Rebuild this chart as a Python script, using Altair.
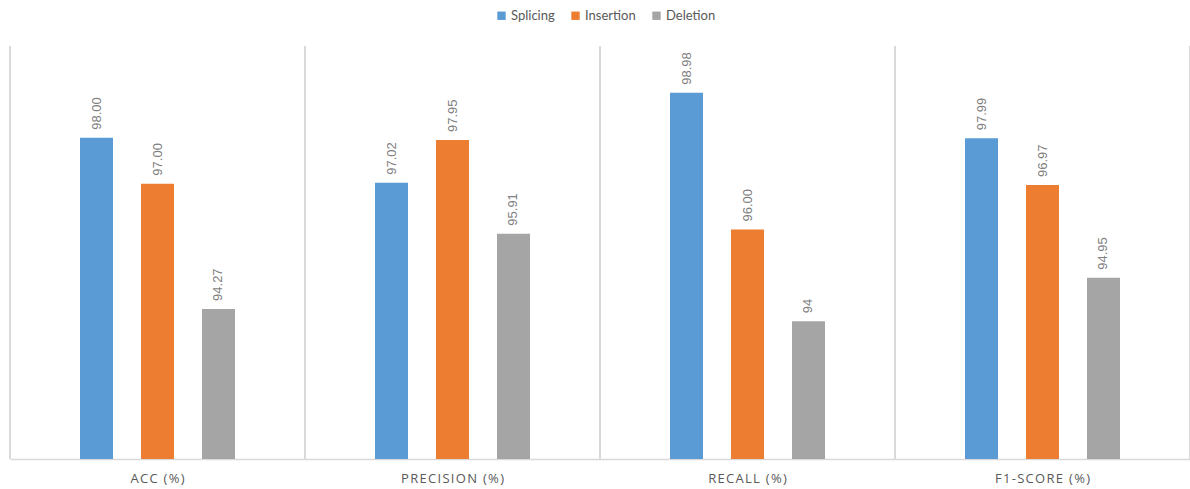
import altair as alt
import pandas as pd

# Metric groups and the three manipulation types
metrics = ["ACC (%)", "PRECISION (%)", "RECALL (%)", "F1-SCORE (%)"]
series = ["Splicing", "Insertion", "Deletion"]
colors = ["#5B9BD5", "#ED7D31", "#A5A5A5"]

splicing = [98.00, 97.02, 98.98, 97.99]
insertion = [97.00, 97.95, 96.00, 96.97]
deletion = [94.27, 95.91, 94.00, 94.95]

splicing_labels = ["98.00", "97.02", "98.98", "97.99"]
insertion_labels = ["97.00", "97.95", "96.00", "96.97"]
deletion_labels = ["94.27", "95.91", "94", "94.95"]

rows = []
for name, vals, labs in [
    ("Splicing", splicing, splicing_labels),
    ("Insertion", insertion, insertion_labels),
    ("Deletion", deletion, deletion_labels),
]:
    for m, v, lab in zip(metrics, vals, labs):
        rows.append({"metric": m, "series": name, "value": v, "label": lab})
df = pd.DataFrame(rows)
sep_df = pd.DataFrame({"metric": metrics})

FONT = "Lato"
W, H = 1180, 413

x_axis = alt.Axis(
    labelAngle=0,
    labelAlign="center",
    labelBaseline="middle",
    ticks=False,
    labelPadding=19,
    labelFont="Open Sans",
    labelFontSize=13,
    labelColor="#595959",
    # spaced-out category captions
    labelExpr="join(split(datum.label, ''), '\u200a')",
    domainColor="#D9D9D9",
    domainWidth=1.5,
    grid=False,
)
x_scale = alt.Scale(paddingInner=0, paddingOuter=0)


def x_enc(**kw):
    return alt.X("metric:N", sort=metrics, title=None, scale=x_scale, axis=x_axis, **kw)


y_scale = alt.Scale(domain=[91, 100], clamp=True, nice=False, zero=False)
off_enc = alt.XOffset(
    "series:N", sort=series,
    scale=alt.Scale(range=[70, 225], paddingInner=0.459, paddingOuter=0),
)

bars = alt.Chart(df).mark_bar().encode(
    x=x_enc(),
    xOffset=off_enc,
    y=alt.Y("value:Q", scale=y_scale, axis=None),
    color=alt.Color(
        "series:N",
        sort=series,
        scale=alt.Scale(domain=series, range=colors),
        legend=alt.Legend(
            title=None,
            orient="none",
            direction="horizontal",
            legendX=485,
            legendY=-37,
            symbolType="square",
            symbolSize=70,
            symbolStrokeWidth=0,
            labelFont=FONT,
            labelFontSize=13,
            labelColor="#595959",
            columnPadding=14,
            labelOffset=3,
        ),
    ),
)

labels = alt.Chart(df).mark_text(
    angle=270, align="left", baseline="middle", dx=8,
    font="Liberation Sans", fontSize=13, color="#808080",
).encode(
    x=x_enc(),
    xOffset=off_enc,
    y=alt.Y("value:Q", scale=y_scale, axis=None),
    text="label:N",
)

# Light vertical separators between metric groups
seps = alt.Chart(sep_df).mark_rule(color="#D9D9D9", strokeWidth=2).encode(
    x=x_enc(bandPosition=0),
    y=alt.value(0),
    y2=alt.value(H),
)
right_edge = alt.Chart(sep_df.head(1)).mark_rule(color="#D9D9D9", strokeWidth=2).encode(
    x=alt.value(W),
    y=alt.value(0),
    y2=alt.value(H),
)

chart = alt.layer(bars, seps, right_edge, labels).properties(
    width=W,
    height=H,
    autosize=alt.AutoSizeParams(type="none"),
    padding={"left": 10, "top": 46, "right": 0, "bottom": 30},
    background="white",
).configure_view(stroke=None)

chart.save("out.html", embed_options={"renderer": "svg", "actions": False})
